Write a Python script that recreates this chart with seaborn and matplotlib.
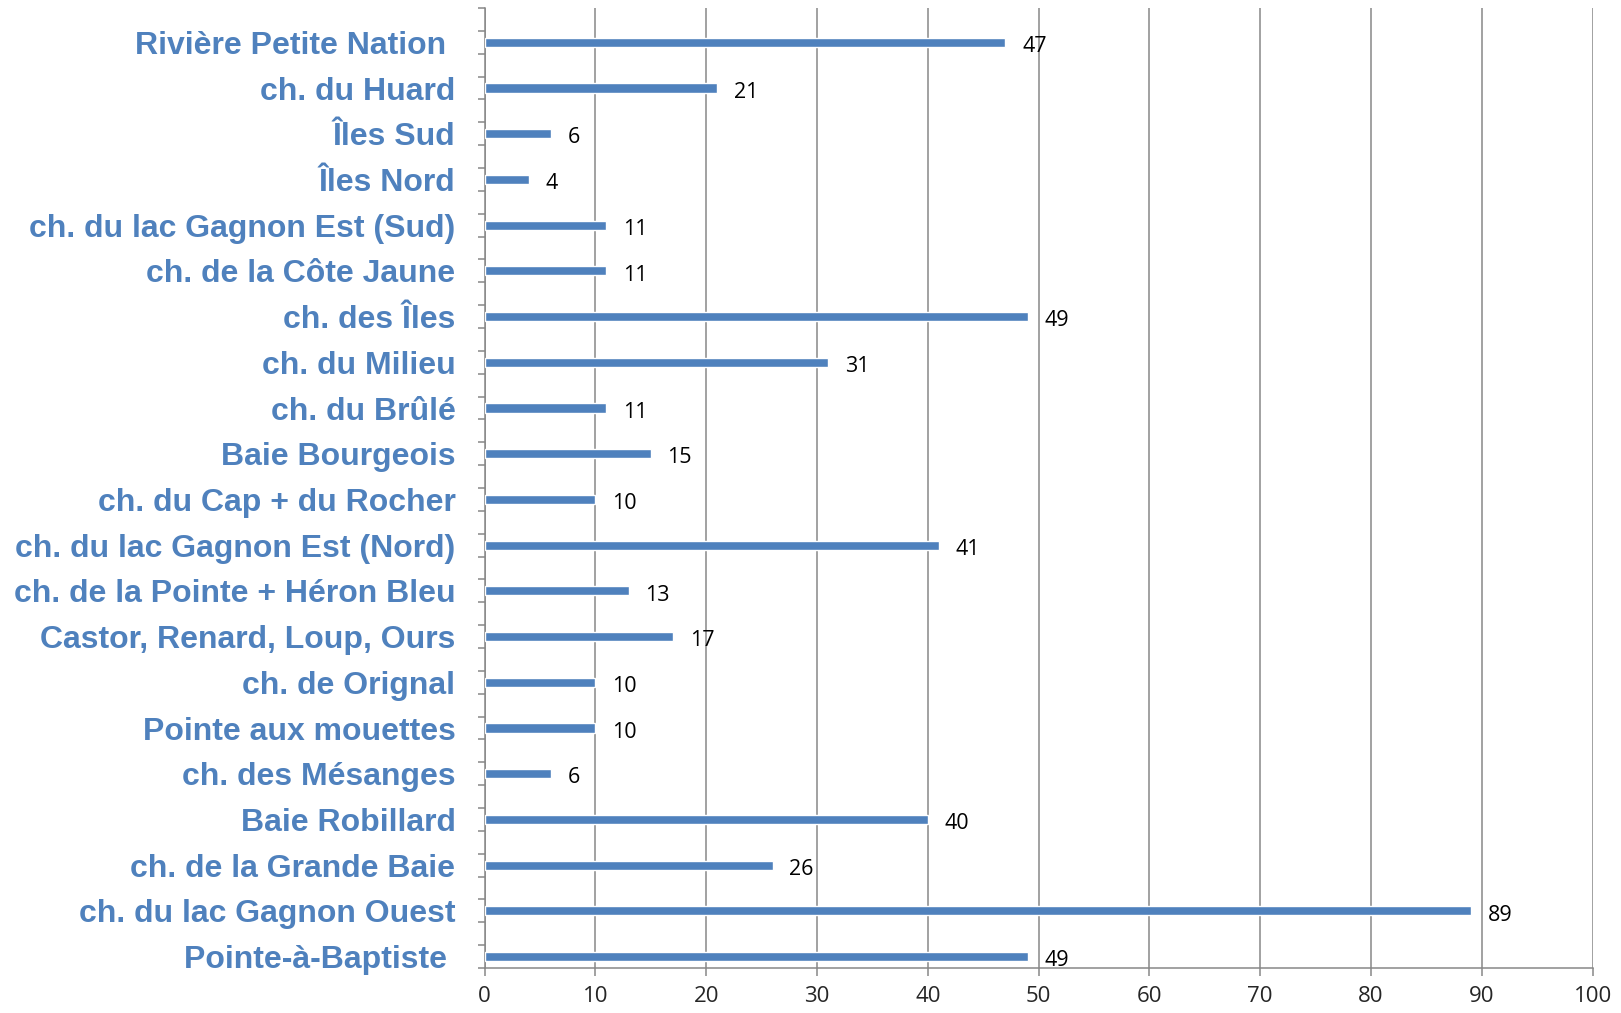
import matplotlib
matplotlib.use("Agg")
import matplotlib.pyplot as plt
from matplotlib.ticker import FixedLocator
import seaborn as sns
import pandas as pd

# categories listed top to bottom, as in the chart
secteurs = [
    "Rivière Petite Nation ",
    "ch. du Huard",
    "Îles Sud",
    "Îles Nord",
    "ch. du lac Gagnon Est (Sud)",
    "ch. de la Côte Jaune",
    "ch. des Îles",
    "ch. du Milieu",
    "ch. du Brûlé",
    "Baie Bourgeois",
    "ch. du Cap + du Rocher",
    "ch. du lac Gagnon Est (Nord)",
    "ch. de la Pointe + Héron Bleu",
    "Castor, Renard, Loup, Ours",
    "ch. de Orignal",
    "Pointe aux mouettes",
    "ch. des Mésanges",
    "Baie Robillard",
    "ch. de la Grande Baie",
    "ch. du lac Gagnon Ouest",
    "Pointe-à-Baptiste ",
]
valeurs = [47, 21, 6, 4, 11, 11, 49, 31, 11, 15, 10, 41, 13, 17, 10, 10, 6, 40, 26, 89, 49]

x_ticks = list(range(0, 101, 10))

df = pd.DataFrame({"secteur": secteurs, "valeur": valeurs})

sns.set_style("white")
plt.rcParams["font.family"] = ["Open Sans", "DejaVu Sans"]

bleu = "#4F81BD"
gris = "#878787"

fig = plt.figure(figsize=(16.21, 10.13), dpi=100)
ax = fig.add_axes([484.6 / 1621, 1 - 968 / 1013, (1592.6 - 484.6) / 1621, (968 - 8) / 1013])

sns.barplot(data=df, x="valeur", y="secteur", orient="h", color=bleu,
            width=0.2, saturation=1, ax=ax, zorder=3)

ax.set_xlim(0, 100)
ax.set_ylim(len(secteurs) - 1 + 0.25, -0.75)
ax.set_xticks(x_ticks)
ax.set_xticklabels([str(t) for t in x_ticks], fontsize=16)
ax.xaxis.grid(True, color=gris, linewidth=1.1, zorder=0)
ax.yaxis.grid(False)

for s in ["top", "right"]:
    ax.spines[s].set_visible(False)
for s in ["left", "bottom"]:
    ax.spines[s].set_color(gris)
    ax.spines[s].set_linewidth(1.1)

ax.tick_params(axis="x", which="major", direction="out", length=6, color=gris,
               width=1.1, pad=7, bottom=True)

# y ticks: labels at bar centers, small marks at half-category positions
ax.tick_params(axis="y", which="major", length=0, pad=21)
ax.yaxis.set_minor_locator(FixedLocator([i / 2 - 0.75 for i in range(43)]))
ax.tick_params(axis="y", which="minor", direction="out", length=5, color=gris,
               width=1.1, left=True)
for lab in ax.get_yticklabels():
    lab.set_fontfamily(["Liberation Sans", "DejaVu Sans"])
    lab.set_fontweight("bold")
    lab.set_fontsize(23)
    lab.set_color(bleu)

ax.set_xlabel("")
ax.set_ylabel("")

txts = ax.bar_label(ax.containers[0], labels=[str(v) for v in valeurs], padding=12,
                    fontsize=15.5, color="black")
for t in txts:
    t.xyann = (12, -3)

fig.savefig("out.png", dpi=100)
